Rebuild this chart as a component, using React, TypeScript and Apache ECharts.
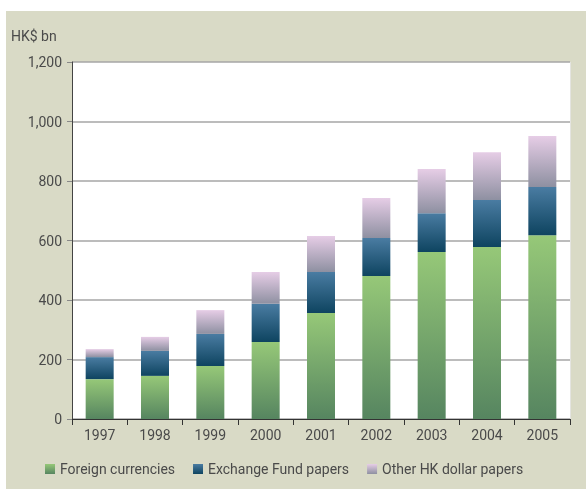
import React, { useEffect, useRef } from "react";
import * as echarts from "echarts";

const years = ["1997", "1998", "1999", "2000", "2001", "2002", "2003", "2004", "2005"];
const foreignCurrencies = [134, 145, 178, 259, 356, 481, 561, 578, 618];
const exchangeFundPapers = [74, 84, 108, 128, 138, 127, 131, 158, 162];
const otherHKDollarPapers = [27, 47, 80, 107, 121, 135, 148, 161, 171];
const yTicks = [0, 200, 400, 600, 800, 1000, 1200];

const grad = (top: string, bottom: string) =>
  new echarts.graphic.LinearGradient(0, 0, 0, 1, [
    { offset: 0, color: top },
    { offset: 1, color: bottom },
  ]);

export default function App() {
  const ref = useRef<HTMLDivElement>(null);
  useEffect(() => {
    if (!ref.current) return;
    const chart = echarts.init(ref.current, null, { renderer: "svg" });
    const font = "Roboto, 'Noto Sans', sans-serif";
    chart.setOption({
      animation: false,
      backgroundColor: "transparent",
      textStyle: { fontFamily: font },
      graphic: [
        {
          type: "rect",
          z: -10,
          silent: true,
          shape: { x: 6, y: 11, width: 580, height: 478 },
          style: { fill: "#d9dac6" },
        },
        {
          type: "text",
          left: 11,
          top: 29,
          style: { text: "HK$ bn", fontSize: 14, fill: "#4a4a4a", fontFamily: font },
        },
        {
          type: "line",
          silent: true,
          shape: { x1: 570.5, y1: 62, x2: 570.5, y2: 419 },
          style: { stroke: "#e4e4e0", lineWidth: 1 },
        },
      ],
      grid: {
        left: 72,
        right: 16,
        top: 62,
        bottom: 70,
        show: true,
        backgroundColor: "#ffffff",
        borderWidth: 0,
        containLabel: false,
      },
      legend: {
        bottom: 8,
        left: 40,
        itemWidth: 10,
        itemHeight: 10,
        itemGap: 18,
        icon: "rect",
        textStyle: { fontSize: 14, color: "#4a4a4a", fontFamily: font },
        data: ["Foreign currencies", "Exchange Fund papers", "Other HK dollar papers"],
      },
      xAxis: {
        type: "category",
        data: years,
        axisLine: { lineStyle: { color: "#333333", width: 1 } },
        axisTick: { show: true, alignWithLabel: false, interval: 0, length: 6, lineStyle: { color: "#333333" } },
        axisLabel: { fontSize: 14, color: "#4a4a4a", margin: 9, fontFamily: font },
      },
      yAxis: {
        type: "value",
        min: 0,
        max: 1200,
        interval: 200,
        axisLine: { show: true, lineStyle: { color: "#444444", width: 1 } },
        axisTick: { show: true, length: 5, lineStyle: { color: "#888888" } },
        axisLabel: {
          fontSize: 14,
          color: "#4a4a4a",
          margin: 10,
          fontFamily: font,
          formatter: (v: number) => (yTicks.includes(v) ? v.toLocaleString("en-US") : ""),
        },
        splitLine: { show: true, lineStyle: { color: "#a6a6a6", width: 1.5 } },
      },
      series: [
        {
          name: "Foreign currencies",
          type: "bar",
          stack: "total",
          barWidth: 28,
          data: foreignCurrencies,
          itemStyle: { color: grad("#96c878", "#568560") },
        },
        {
          name: "Exchange Fund papers",
          type: "bar",
          stack: "total",
          barWidth: 28,
          data: exchangeFundPapers,
          itemStyle: { color: grad("#4a7ca2", "#0e4460") },
        },
        {
          name: "Other HK dollar papers",
          type: "bar",
          stack: "total",
          barWidth: 28,
          data: otherHKDollarPapers,
          itemStyle: { color: grad("#e6cde6", "#8e90a1") },
        },
      ],
    });
    return () => chart.dispose();
  }, []);
  return (
    <div
      ref={ref}
      style={{ position: "fixed", left: 0, top: 0, width: 586, height: 489 }}
    />
  );
}
